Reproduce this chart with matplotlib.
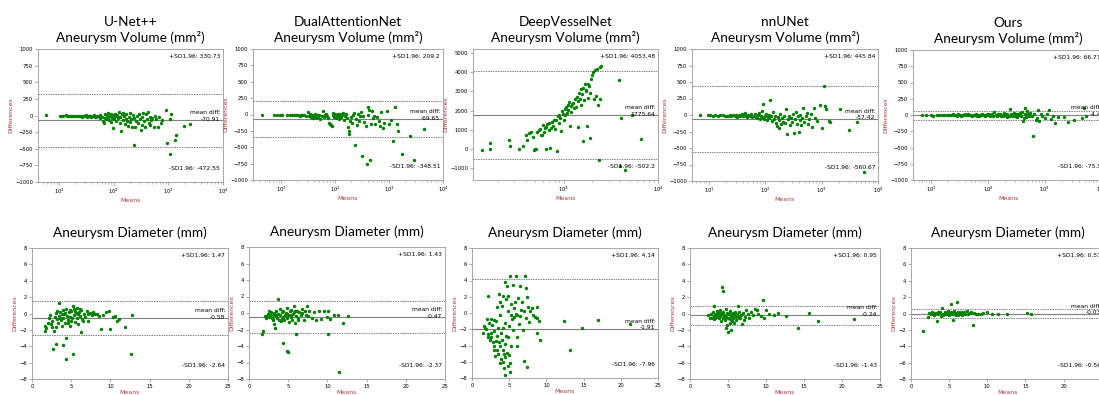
import matplotlib
matplotlib.use('Agg')
import matplotlib.pyplot as plt
import matplotlib.transforms as mtransforms

#%% DATA  (mean, difference) pairs
unet_vol = [(5.7,2),(10.5,-2),(11.2,0),(11.8,-6),(13.5,3),(14.2,-4),(15,0),(16.5,-10),(18,-3),(19,-12),
            (20.5,-5),(22,-15),(23,-8),(24.5,0),(26,-18),(27.5,-6),(29,-12),(30.5,2),(32,-20),(33.5,-9),
            (35,-3),(37,-15),(39,-25),(41,-8),(43,5),(45,-18),(47,-30),(50,-5),(53,-12),(55,15),(57,-45),
            (60,-25),(63,-80),(65,-110),(68,25),(70,-40),(72,-60),(75,15),(78,-20),(80,35),(82,-70),(85,-5),
            (88,-95),(90,20),(92,-35),(95,-190),(98,10),(100,-60),(103,-25),(106,30),(110,-80),(113,-15),
            (116,5),(120,-45),(124,50),(128,-110),(132,-30),(136,-240),(140,20),(145,-70),(150,45),(155,-10),
            (160,-130),(165,-50),(170,30),(176,-85),(182,-160),(188,-20),(195,40),(200,-100),(207,-60),
            (214,-170),(222,10),(230,-440),(238,-40),(246,-175),(255,-80),(265,-5),(275,-120),(285,25),
            (296,-60),(310,-215),(322,-30),(335,-140),(350,45),(365,-90),(380,-170),(395,30),(410,-55),
            (425,50),(440,-110),(455,-20),(470,-150),(490,-70),(510,-35),(540,-180),(570,-10),(600,-60),
            (640,-170),(680,-25),(720,-120),(760,-75),(900,80),(940,-420),(1050,-575),(1080,-60),(1130,20),
            (1300,-365),(1400,-295),(1900,-160),(2500,-130)]
dual_vol = [(4.5,0),(7.2,-12),(8.5,-10),(9.5,-8),(10.5,-5),(13,-3),(14.5,-12),(16,-5),(17.5,-15),(19,-8),
            (20.5,-2),(22,-18),(23.5,-10),(25,-5),(27,-15),(29,-20),(31,45),(33,-30),(34,5),(35.5,-40),
            (37,-10),(38.5,-50),(40,-25),(42,15),(44,-60),(46,-5),(48,-35),(50,0),(53,-70),(56,-20),(59,55),
            (62,-45),(65,-10),(68,10),(71,-30),(74,-55),(77,-130),(80,-150),(83,-165),(86,-180),(90,-15),
            (93,20),(96,-40),(100,5),(104,-60),(108,-20),(112,15),(116,-30),(120,-75),(125,10),(130,-45),
            (135,-10),(140,25),(146,-90),(152,-30),(158,5),(165,-60),(172,-190),(178,-255),(184,-300),
            (190,-100),(197,-40),(205,-130),(213,-10),(222,30),(232,-470),(242,-70),(252,-160),(263,10),
            (275,-95),(290,-30),(305,40),(320,-640),(335,-20),(350,-120),(368,-170),(385,-750),(400,-10),
            (415,120),(430,70),(445,-690),(460,-140),(480,55),(500,-60),(530,-20),(560,-150),(600,-40),
            (640,-100),(680,-170),(720,35),(760,-200),(820,-130),(900,50),(1000,-150),(1100,-80),(1200,-400),
            (1280,120),(1400,-140),(1450,-250),(1750,-605),(2450,-325),(2950,-700),(4500,-215)]
dvn_vol = [(137,-50),(166,300),(166,0),(263,470),(270,170),(337,30),(370,170),(395,720),(410,500),(430,820),
           (450,880),(470,650),(485,-20),(500,30),(510,-10),(520,900),(540,1020),(556,1070),(570,760),
           (585,750),(600,1240),(615,900),(630,1100),(645,0),(655,1150),(670,1300),(690,980),(700,1350),
           (715,80),(730,1100),(750,1400),(770,1200),(790,1500),(810,1050),(836,1500),(850,-80),(860,1700),
           (880,1350),(900,1800),(920,1600),(940,950),(960,2000),(984,1840),(1000,1500),(1020,2100),
           (1040,1750),(1060,2200),(1080,1900),(1100,2300),(1120,2050),(1140,2450),(1160,1180),(1180,2250),
           (1200,1950),(1230,2350),(1255,2400),(1280,2150),(1310,2600),(1340,2200),(1370,2700),(1400,1150),
           (1430,2500),(1460,2900),(1480,2620),(1510,2300),(1540,3100),(1570,2850),(1600,410),(1620,3200),
           (1650,2550),(1680,3400),(1710,3000),(1740,3050),(1760,1200),(1790,3400),(1820,2650),(1850,3300),
           (1880,600),(1910,2900),(1950,3650),(2000,3850),(2050,4000),(2100,2600),(2150,4100),(2200,2750),
           (2250,4150),(2300,2300),(2350,-570),(2400,4260),(2450,2600),(2500,4310),(3900,3600),(4090,1640),
           (5330,1790),(6550,550),(3950,-860),(4430,-1100)]
nnu_vol = [(7,0),(9.5,-5),(10.5,-3),(12,-8),(13,0),(14.5,-12),(16,-6),(17.5,2),(19,-15),(20.5,-8),(22,-20),
           (23.5,-3),(25,-12),(27,5),(28.5,-18),(30,-6),(32,-25),(34,0),(36,-10),(38,15),(40,-20),(42,-5),
           (44,30),(46,-15),(48,-30),(50,5),(53,-10),(56,20),(59,-35),(62,-8),(65,10),(68,-25),(71,-45),
           (74,0),(77,25),(80,-55),(83,-15),(86,60),(89,-30),(92,160),(95,-60),(98,-10),(102,20),(106,-75),
           (110,-35),(114,5),(118,-50),(123,230),(128,-20),(133,-90),(138,40),(143,-60),(148,-10),
           (154,-120),(160,-170),(166,-30),(172,-200),(178,-80),(185,10),(192,-140),(200,-45),(208,-100),
           (216,-20),(225,-120),(234,90),(243,-290),(252,-60),(262,-10),(272,-150),(283,-40),(295,-110),
           (308,20),(320,-270),(333,-60),(346,40),(360,-130),(375,-20),(390,-255),(405,-80),(420,5),
           (438,-150),(456,-40),(475,100),(495,-100),(520,-20),(545,30),(570,-130),(600,-60),(640,10),
           (680,-180),(720,100),(760,-40),(820,-90),(950,150),(1000,-200),(1100,440),(1150,130),(1180,90),
           (1350,-90),(1420,-110),(2100,90),(3050,-230),(4300,-100),(5600,-860)]
ours_vol = [(7,5),(8,-3),(10,0),(11,-8),(12.5,3),(14,-5),(15.5,2),(17,-4),(19,0),(21,6),(22.5,-6),(24,10),
            (25.5,-2),(27,4),(28.5,-8),(30,15),(32,0),(33.5,-10),(35,5),(37,-3),(39,8),(41,-6),(43,2),
            (45,12),(47,-4),(49,0),(52,-12),(55,6),(58,-2),(61,10),(64,-8),(67,3),(70,-15),(73,7),(76,-3),
            (80,12),(84,0),(88,-10),(92,5),(96,20),(100,-5),(105,8),(110,-12),(115,3),(120,15),(125,-8),
            (130,45),(136,0),(142,-15),(148,10),(154,-5),(160,20),(167,-20),(174,5),(181,-10),(188,25),
            (196,-3),(204,15),(212,-25),(220,8),(230,-12),(240,95),(250,20),(260,-20),(270,5),(282,30),
            (294,-15),(306,10),(320,-30),(335,15),(350,-5),(365,35),(380,-10),(395,50),(410,-90),(425,-40),
            (440,110),(455,20),(470,-30),(490,60),(510,10),(535,-20),(560,30),(590,-10),(620,-330),(650,20),
            (690,-70),(720,-50),(750,80),(800,-90),(850,15),(900,-20),(1000,-40),(1100,10),(1200,80),
            (1300,-60),(1400,-20),(1500,-130),(1700,-25),(2200,-30),(2600,-100),(3300,-80),(4600,-45),
            (4800,110),(5400,-10)]

unet_dia = [(1.6,-1.5),(1.7,-2.1),(1.8,-1.8),(2.0,-1.1),(2.2,-0.6),(2.3,-0.2),(2.4,-1.3),(2.5,-0.9),(2.6,-1.6),
            (2.7,-4.3),(2.8,-2.1),(2.9,-0.4),(3.0,-3.7),(3.0,0.1),(3.1,-1.7),(3.2,-0.7),(3.2,0.3),(3.3,-1.1),
            (3.4,1.3),(3.5,-0.3),(3.6,0.2),(3.6,-0.5),(3.7,-0.8),(3.8,-0.1),(3.8,-1.5),(3.9,0.4),(4.0,-3.8),
            (4.0,-0.5),(4.1,0.0),(4.2,-1.2),(4.2,0.1),(4.3,-3.0),(4.3,-5.6),(4.4,0.6),(4.5,-0.3),(4.6,-0.8),
            (4.6,-1.2),(4.7,0.2),(4.8,-0.4),(4.8,0.4),(4.9,-1.5),(5.0,0.3),(5.0,-0.9),(5.1,-0.6),(5.2,0.9),
            (5.2,-5.0),(5.3,-0.2),(5.4,0.5),(5.5,-1.0),(5.5,0.3),(5.6,0.1),(5.7,0.65),(5.8,-0.5),(5.9,-1.3),
            (5.9,0.0),(6.0,0.2),(6.1,-0.3),(6.1,0.5),(6.2,-2.3),(6.3,0.4),(6.4,-0.7),(6.5,-0.9),(6.6,0.0),
            (6.8,-0.4),(7.0,0.3),(7.1,-0.1),(7.2,-0.9),(7.4,0.1),(7.6,-0.2),(7.8,0.2),(8.0,-0.1),(8.3,0.0),
            (8.6,-0.3),(8.8,-1.9),(9.0,-0.2),(9.4,0.2),(9.8,0.3),(10.0,-1.9),(10.3,-0.4),(10.6,-0.3),
            (10.9,-0.9),(11.1,-0.65),(11.8,-1.7),(12.6,-5.0),(12.8,-0.15)]
dual_dia = [(1.66,-2.5),(1.8,-2.2),(2.0,-0.4),(2.2,-0.6),(2.3,-0.4),(2.4,-0.1),(2.5,0.2),(2.6,-0.5),(2.7,-0.3),
            (2.8,0.1),(2.9,-0.6),(3.0,-0.2),(3.0,-0.9),(3.1,-0.7),(3.2,-1.3),(3.2,0.0),(3.3,-1.8),(3.4,-0.4),
            (3.5,0.2),(3.5,-0.3),(3.6,-0.6),(3.65,1.7),(3.7,-0.1),(3.8,-0.8),(3.9,0.5),(4.0,-0.3),(4.1,-1.0),
            (4.2,0.1),(4.2,-0.7),(4.3,-0.5),(4.4,-3.6),(4.4,0.3),(4.5,-0.9),(4.6,-0.2),(4.7,0.0),(4.8,-4.55),
            (4.8,-0.6),(4.9,0.6),(4.9,-0.1),(5.0,-4.75),(5.0,-0.3),(5.1,-1.1),(5.2,0.2),(5.3,-0.5),(5.4,0.4),
            (5.4,-0.2),(5.5,-0.8),(5.6,-0.1),(5.7,0.1),(5.8,0.9),(5.9,-1.2),(5.9,0.2),(6.0,-2.6),(6.0,-0.4),
            (6.1,0.3),(6.2,-0.6),(6.3,-0.9),(6.4,0.1),(6.6,-0.3),(6.7,0.0),(6.8,0.5),(7.0,-0.8),(7.2,0.2),
            (7.3,-0.2),(7.4,0.9),(7.5,-0.4),(7.7,0.3),(8.0,-0.6),(8.3,0.1),(8.6,-0.9),(8.9,0.2),(9.2,-0.7),
            (9.6,0.3),(9.9,-0.5),(10.1,-2.6),(10.1,0.24),(10.3,-0.77),(10.9,-0.3),(11.3,-0.3),(11.5,-7.2),
            (12.0,-1.17),(12.65,-0.36)]
dvn_dia = [(1.5,-2.4),(1.6,-1.6),(1.8,-1.8),(1.9,-2.0),(2.0,-0.7),(2.1,2.1),(2.1,-3.0),(2.2,-2.6),(2.3,-1.2),
           (2.4,-3.3),(2.5,-0.7),(2.5,-2.5),(2.6,-2.9),(2.7,-1.5),(2.8,-3.6),(2.9,-0.8),(2.9,-4.6),(3.0,-2.2),
           (3.0,-4.0),(3.1,-5.3),(3.2,-1.0),(3.2,-3.4),(3.3,0.7),(3.3,-4.5),(3.4,-2.8),(3.5,-5.0),(3.5,-1.8),
           (3.6,2.3),(3.6,-3.6),(3.7,-6.2),(3.7,-0.3),(3.8,-4.1),(3.8,1.3),(3.9,-2.5),(3.9,-5.7),(4.0,0.9),
           (4.0,-3.3),(4.1,-4.6),(4.1,-6.0),(4.2,2.1),(4.2,-1.9),(4.3,-5.0),(4.3,-6.8),(4.4,3.8),(4.4,-3.8),
           (4.4,-7.6),(4.5,-1.2),(4.5,-5.4),(4.6,1.7),(4.6,-2.8),(4.7,3.3),(4.7,-4.9),(4.8,0.3),(4.8,-6.5),
           (4.9,-3.0),(4.9,2.1),(5.0,-1.6),(5.0,-5.2),(5.1,4.6),(5.1,-7.2),(5.1,-6.1),(5.2,-0.3),(5.3,1.1),
           (5.3,-4.1),(5.4,-0.7),(5.5,3.5),(5.5,-2.1),(5.6,0.6),(5.7,-0.5),(5.8,1.4),(5.9,-0.1),(5.95,4.5),
           (6.0,-2.9),(6.1,-4.0),(6.1,-0.2),(6.2,1.8),(6.3,-1.3),(6.45,3.3),(6.5,-0.4),(6.6,0.4),(6.75,1.3),
           (6.8,-2.1),(7.0,-5.9),(7.0,0.2),(7.15,4.5),(7.2,-0.6),(7.3,3.1),(7.4,2.0),(7.4,-6.7),(7.5,0.7),
           (7.6,-1.1),(7.8,0.3),(8.0,0.6),(8.2,-0.2),(8.5,-0.5),(8.7,0.8),(8.75,-0.6),(8.8,-2.4),(9.0,-1.0),
           (9.1,-3.3),(12.4,-1.0),(13.2,-4.6),(14.75,-1.8),(17.0,-0.8),(21.2,-1.3)]
nnu_dia = [(2.4,-0.2),(2.6,-0.5),(2.8,-0.1),(2.9,-0.6),(3.0,0.2),(3.1,-0.3),(3.15,0.9),(3.2,-0.7),(3.3,0.0),
           (3.3,-0.6),(3.4,-0.4),(3.5,0.3),(3.6,-0.2),(3.6,-0.4),(3.7,0.1),(3.8,-0.6),(3.9,0.4),(4.0,-0.3),
           (4.0,0.1),(4.1,-0.9),(4.2,3.2),(4.2,0.0),(4.3,2.8),(4.3,-0.5),(4.4,0.2),(4.4,-0.6),(4.5,-0.2),
           (4.6,-0.8),(4.6,-0.3),(4.7,0.5),(4.8,-1.75),(4.8,-0.4),(4.9,-1.4),(4.9,0.1),(5.05,-2.2),(5.0,-0.6),
           (5.1,-0.1),(5.2,-1.1),(5.2,-0.7),(5.3,0.3),(5.35,-2.0),(5.4,-0.3),(5.5,-0.9),(5.5,-0.1),(5.6,0.1),
           (5.7,-0.5),(5.8,-1.2),(5.8,-0.2),(5.9,0.2),(6.0,-0.4),(6.1,-0.8),(6.2,0.0),(6.3,0.9),(6.3,-0.3),
           (6.4,-0.6),(6.5,0.2),(6.6,-0.6),(6.7,-0.2),(6.9,-1.3),(7.0,0.1),(7.1,-0.8),(7.2,-0.4),(7.4,0.4),
           (7.6,-0.1),(7.8,-0.5),(8.0,0.2),(8.3,-0.2),(8.5,0.6),(8.8,0.45),(9.0,-0.1),(9.3,-0.3),(9.65,1.6),
           (9.8,-0.5),(10.0,0.4),(10.4,-0.1),(11.0,-0.2),(11.6,0.1),(12.6,-0.25),(14.25,-1.75),(15.7,0.1),
           (16.9,-0.9),(21.6,-0.65)]
ours_dia = [(1.6,-2.1),(2.2,-0.4),(2.4,0.1),(2.6,-0.1),(2.8,0.2),(2.9,0.0),(3.0,-0.2),(3.1,0.1),(3.2,0.0),
            (3.35,-0.9),(3.4,0.1),(3.5,0.2),(3.6,-0.1),(3.8,0.2),(3.9,-0.3),(4.0,0.0),(4.1,0.65),(4.2,-0.2),
            (4.3,-0.1),(4.4,0.1),(4.5,0.2),(4.6,-0.1),(4.8,0.3),(4.9,-0.1),(5.0,-0.2),(5.1,0.0),(5.2,1.1),
            (5.3,0.2),(5.45,-0.75),(5.5,-0.1),(5.6,0.3),(5.7,0.1),(5.8,0.1),(5.9,-0.2),(6.05,1.4),(6.1,0.2),
            (6.2,-0.2),(6.3,-0.1),(6.5,0.1),(6.6,0.2),(6.7,-0.2),(6.8,0.0),(6.9,0.2),(7.0,-0.1),(7.1,0.0),
            (7.3,0.3),(7.5,-0.1),(7.7,0.1),(7.9,0.2),(8.1,-1.4),(8.2,0.1),(8.5,0.0),(8.8,-0.1),(9.2,0.0),
            (9.5,0.1),(10.0,0.15),(10.6,0.0),(11.45,0.0),(12.6,-0.1),(15.25,0.1),(15.7,0.0)]

methods = ['U-Net++', 'DualAttentionNet', 'DeepVesselNet', 'nnUNet', 'Ours']
vol_data = [unet_vol, dual_vol, dvn_vol, nnu_vol, ours_vol]
dia_data = [unet_dia, dual_dia, dvn_dia, nnu_dia, ours_dia]
# (mean diff, +1.96 SD, -1.96 SD)
vol_stats = [(-70.91, 330.73, -472.55), (-69.65, 209.2, -348.51), (1775.64, 4053.48, -502.2),
             (-57.42, 445.84, -560.67), (-4.4, 66.71, -75.5)]
dia_stats = [(-0.58, 1.47, -2.64), (-0.47, 1.43, -2.37), (-1.91, 4.14, -7.96),
             (-0.24, 0.95, -1.43), (-0.03, 0.51, -0.56)]
vol_xlim = [(4.1, 1e4), (3.0, 1e4), (109, 1e4), (5.0, 1e4), (4.8, 11000)]
vol_ylim = [(-1000, 1000), (-1000, 1000), (-1600, 5200), (-1000, 1000), (-1000, 1000)]
dia_xlim = [(0, 25), (0, 25), (0, 25), (0, 25), (0, 25.3)]

#%% LAYOUT (pixel boxes: left, right, top, bottom)
W, H = 1099, 395
top_boxes = [(38, 223, 49, 182), (253, 443, 49, 180), (473, 658, 49, 180), (692, 878, 49, 181), (913, 1104, 50, 180)]
bot_boxes = [(32, 228, 248, 379), (249, 445, 247, 379), (472, 658, 248, 378), (690, 880, 248, 379), (911, 1104, 248, 379)]

def frac(b):
    l, r, t, bt = b
    return [l / W, 1 - bt / H, (r - l) / W, (bt - t) / H]

RED = '#a83a3a'

def bland(ax, pts, stats, title, logx, tpad):
    xs = [p[0] for p in pts]
    ys = [p[1] for p in pts]
    md, up, lo = stats
    ax.scatter(xs, ys, s=6, c='green', marker='o', linewidths=0, zorder=3)
    ax.axhline(md, color='gray', lw=0.8)
    ax.axhline(up, color='gray', lw=0.7, ls=(0, (1.5, 1)))
    ax.axhline(lo, color='gray', lw=0.7, ls=(0, (1.5, 1)))
    if logx:
        ax.set_xscale('log')
    trans = mtransforms.blended_transform_factory(ax.transAxes, ax.transData)
    trans = mtransforms.offset_copy(trans, fig=ax.figure, y=3, units='points')
    ax.text(0.985, 0.94, '+SD1.96: %s' % format(up, 'g'), ha='right', va='center', transform=ax.transAxes, fontsize=4.3)
    ax.text(0.985, 0.105, '-SD1.96: %s' % format(lo, 'g'), ha='right', va='center', transform=ax.transAxes, fontsize=4.3)
    ax.text(0.985, md, 'mean diff:\n%s' % format(md, 'g'), ha='right', va='center', transform=trans, fontsize=4.3,
            linespacing=1.4)
    ax.set_title(title, fontsize=9.8, family='Lato', pad=tpad, linespacing=1.3)
    ax.set_ylabel('Differences', color=RED, fontsize=4.5, labelpad=1.5)
    ax.set_xlabel('Means', color=RED, fontsize=4.5, labelpad=1)
    ax.tick_params(labelsize=3.8, length=2, width=0.5, color='#888888', pad=1.5)
    ax.tick_params(which='minor', length=1.2, width=0.4, color='#888888')
    for s in ax.spines.values():
        s.set_color('#999999')
        s.set_linewidth(0.6)

fig = plt.figure(figsize=(W / 100, H / 100), dpi=100)

for i in range(5):
    ax = fig.add_axes(frac(top_boxes[i]))
    bland(ax, vol_data[i], vol_stats[i], methods[i] + '\nAneurysm Volume (mm²)', True, 5)
    ax.set_xlim(vol_xlim[i])
    ax.set_ylim(vol_ylim[i])
    if i == 2:
        ax.set_yticks([-1000, 0, 1000, 2000, 3000, 4000, 5000])
    else:
        ax.set_yticks(range(-1000, 1001, 250))

for i in range(5):
    ax = fig.add_axes(frac(bot_boxes[i]))
    bland(ax, dia_data[i], dia_stats[i], 'Aneurysm Diameter (mm)', False, 8)
    ax.set_xlim(dia_xlim[i])
    ax.set_ylim(-8, 8)
    ax.set_xticks(range(0, 26, 5))
    ax.set_yticks(range(-8, 9, 2))

fig.savefig('out.png', dpi=100)
